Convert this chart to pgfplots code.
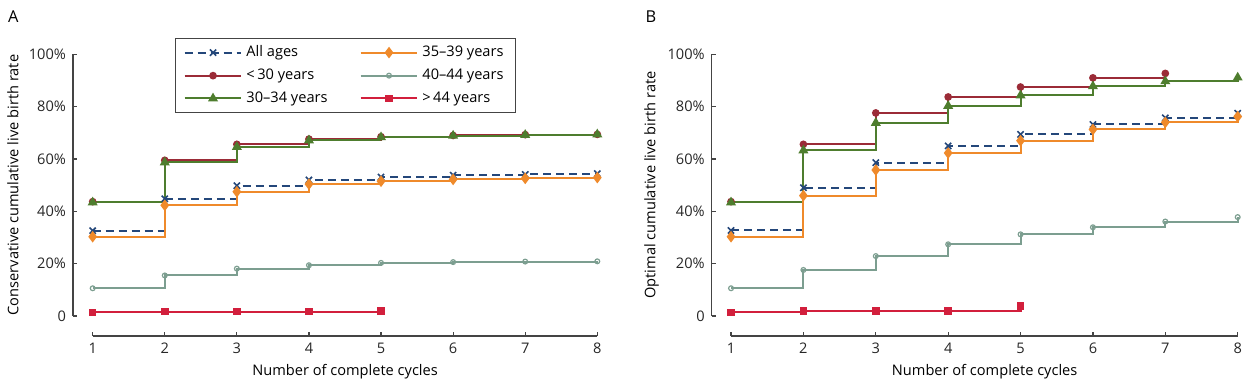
\documentclass[border=0pt]{standalone}
\usepackage{pgfplots}
\usepackage{pgfplotstable}
\pgfplotsset{compat=1.18}
\usepackage{fontspec}
\setmainfont{Open Sans}
\definecolor{allblue}{HTML}{24477A}
\definecolor{cU30}{HTML}{9B2B37}
\definecolor{c3034}{HTML}{4E7D2E}
\definecolor{c3539}{HTML}{EF8A2B}
\definecolor{c4044}{HTML}{7C9E90}
\definecolor{cO44}{HTML}{D21F3C}
\definecolor{axgray}{HTML}{444444}

% Panel A (conservative)
\pgfplotstableread{
x all u30 a3034 a3539 a4044
1 32.6 43.7 43.4 30.3 10.6
2 44.8 59.5 58.7 42.3 15.5
3 49.8 65.6 64.6 47.5 18.1
4 52.0 67.6 67.1 50.4 19.4
5 53.1 68.5 68.3 51.5 20.3
6 53.8 69.0 68.9 52.2 20.6
7 54.1 69.3 69.2 52.6 20.8
8 54.4 69.4 69.4 52.9 20.9
}\tabA
\pgfplotstableread{
x o44
1 1.4
2 1.7
3 1.7
4 1.7
5 1.9
}\tabAo
% Panel B (optimal)
\pgfplotstableread{
x all a3034 a3539 a4044
1 32.7 43.4 30.3 10.6
2 49.0 63.3 46.0 17.6
3 58.6 73.8 55.8 22.9
4 65.0 80.3 62.3 27.4
5 69.4 84.3 67.0 31.2
6 73.2 87.8 71.3 33.9
7 75.7 89.7 74.0 36.1
8 77.5 91.1 76.2 37.8
}\tabB
\pgfplotstableread{
x u30
1 43.7
2 65.6
3 77.6
4 83.7
5 87.5
6 91.0
7 92.7
}\tabBu
\pgfplotstableread{
x o44
1 1.4
2 2.0
3 2.0
4 2.0
5 3.8
}\tabBo

\pgfplotsset{
  panel/.style={
    scale only axis, height=140.85pt,
    ymin=-7.64, ymax=100, xmax=8,
    clip=false,
    axis line style={draw=none},
    tick pos=left, tick align=inside, major tick length=2pt,
    tick style={color=axgray, line width=0.6pt},
    xtick={1,...,8},
    ytick={0,20,40,60,80,100},
    yticklabels={0,20\%,40\%,60\%,80\%,100\%},
    font=\fontsize{7.3}{8.8}\selectfont,
    ticklabel style={font=\fontsize{7.3}{8.8}\selectfont, text=black!85},
    /pgf/number format/assume math mode=true,
    every axis y label/.style={at={(axis description cs:0,0.536)}, xshift=-30pt, rotate=90, anchor=center, font=\fontsize{7.3}{8.8}\selectfont},
    every axis x label/.style={at={(axis description cs:0.519,0)}, yshift=-18pt, anchor=center, font=\fontsize{7.3}{8.8}\selectfont},
    xlabel={Number of complete cycles},
    legend image code/.code={\draw[mark repeat=2,mark phase=2,#1] plot coordinates {(0cm,0cm) (0.5cm,0cm) (1cm,0cm)};},
  },
  sAll/.style={allblue, line width=1pt, dash pattern=on 4pt off 2.5pt, const plot, mark=x, mark size=2.2pt, mark options={solid, line width=0.8pt}},
  sU30/.style={cU30, line width=1pt, const plot, mark=*, mark size=1.4pt},
  s3034/.style={c3034, line width=1pt, const plot, mark=triangle*, mark size=1.9pt},
  s3539/.style={c3539, line width=1pt, const plot, mark=diamond*, mark size=2.1pt},
  s4044/.style={c4044, line width=1pt, const plot, mark=o, mark size=1.2pt, mark options={fill=white, line width=0.6pt}},
  sO44/.style={cO44, line width=1pt, const plot, mark=square*, mark size=1.4pt},
}

\begin{document}
\begin{tikzpicture}
\useasboundingbox (0,0) rectangle (625pt,-193.5pt);
\node[font=\fontsize{8.2}{9}\selectfont] at (6.65pt,-8.2pt) {A};
\node[font=\fontsize{8.2}{9}\selectfont] at (325.5pt,-8.2pt) {B};

\begin{axis}[panel, at={(36.5pt,-168pt)}, anchor=south west, width=262.15pt,
  xmin=0.727,
  ylabel={Conservative cumulative live birth rate},
  legend columns=3, transpose legend, legend cell align=left,
  legend style={at={(axis description cs:0.1945,1.058)}, anchor=north west,
    draw=axgray, line width=0.6pt, font=\fontsize{7.3}{8.8}\selectfont,
    inner xsep=4pt, inner ysep=1.5pt, row sep=0.6pt,
    /tikz/every even column/.append style={column sep=14pt}},
]
\draw[axgray, line width=0.6pt] (axis cs:0.727,0) -- (axis cs:0.727,100);
\draw[axgray, line width=0.6pt] (axis cs:1,-7.64) -- (axis cs:8,-7.64);
\addplot[sAll] table[x=x,y=all] {\tabA};
\addlegendentry{All ages}
\addplot[sU30] table[x=x,y=u30] {\tabA};
\addlegendentry{<\,30 years}
\addplot[s3034] table[x=x,y=a3034] {\tabA};
\addlegendentry{30--34 years}
\addplot[s3539] table[x=x,y=a3539] {\tabA};
\addlegendentry{35--39 years}
\addplot[s4044] table[x=x,y=a4044] {\tabA};
\addlegendentry{40--44 years}
\addplot[sO44] table[x=x,y=o44] {\tabAo};
\addlegendentry{>\,44 years}
\end{axis}

\begin{axis}[panel, at={(355.85pt,-168pt)}, anchor=south west, width=263pt,
  xmin=0.733,
  ylabel={Optimal cumulative live birth rate},
]
\draw[axgray, line width=0.6pt] (axis cs:0.733,0) -- (axis cs:0.733,100);
\draw[axgray, line width=0.6pt] (axis cs:1,-7.64) -- (axis cs:8,-7.64);
\addplot[sAll] table[x=x,y=all] {\tabB};
\addplot[sU30] table[x=x,y=u30] {\tabBu};
\addplot[s3034] table[x=x,y=a3034] {\tabB};
\addplot[s3539] table[x=x,y=a3539] {\tabB};
\addplot[s4044] table[x=x,y=a4044] {\tabB};
\addplot[sO44] table[x=x,y=o44] {\tabBo};
\end{axis}
\end{tikzpicture}
\end{document}
